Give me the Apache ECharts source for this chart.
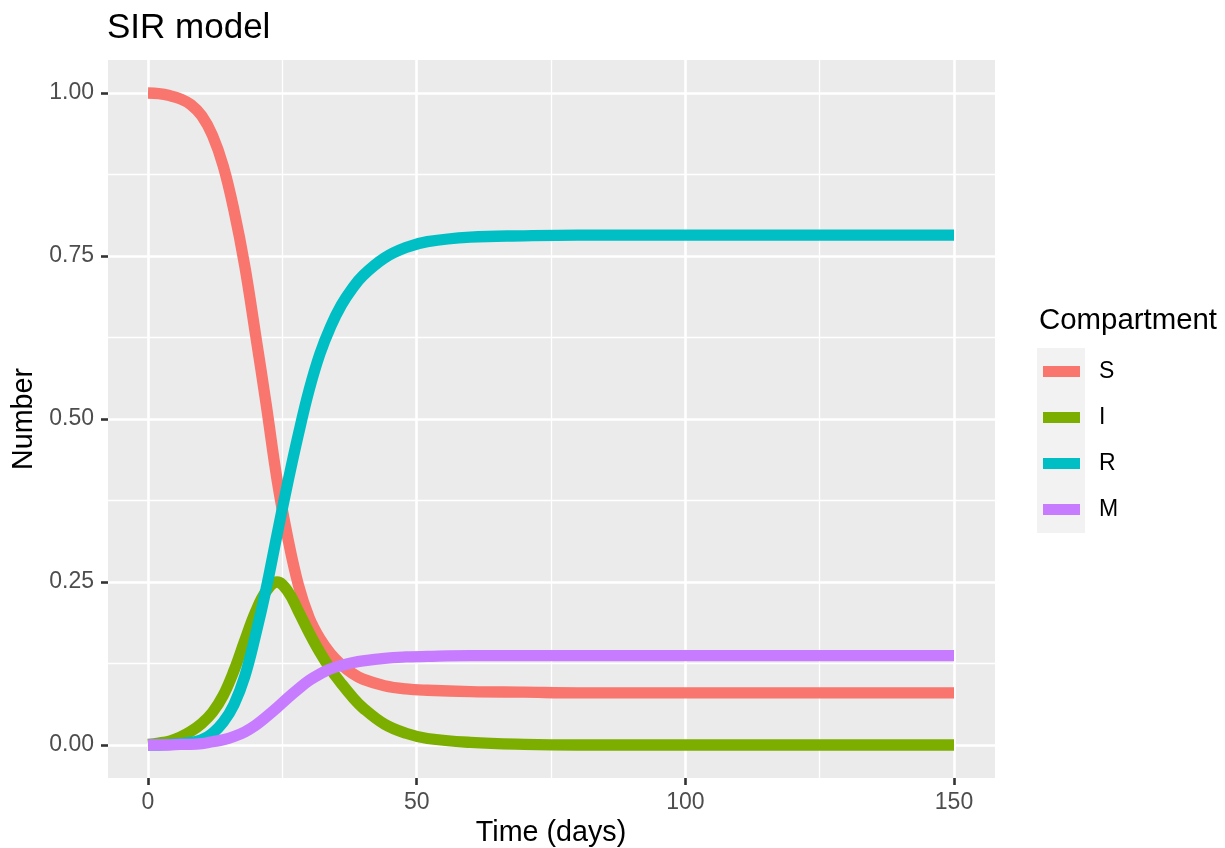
<!DOCTYPE html>
<html>
<head>
<meta charset="utf-8">
<title>SIR model</title>
<script src="https://cdn.jsdelivr.net/npm/echarts@6.0.0/dist/echarts.min.js"></script>
<style>
  html, body { margin: 0; padding: 0; background: #fff; }
  #chart { width: 1225px; height: 848px; }
</style>
</head>
<body>
<div id="chart"></div>
<script>
// time (days)
const times = [0, 2, 4, 6, 8, 10, 12, 14, 16, 18, 20, 22, 24, 26, 28, 30, 32, 34, 36, 38, 40, 44, 48, 52, 60, 70, 80, 100, 125, 150]
const S = [1.000, 0.999, 0.996, 0.991, 0.982, 0.965, 0.935, 0.888, 0.820, 0.735, 0.630, 0.522, 0.408, 0.318, 0.245, 0.195, 0.163, 0.140, 0.123, 0.110, 0.101, 0.091, 0.086, 0.084, 0.082, 0.081, 0.080, 0.080, 0.080, 0.080]
const I = [0.001, 0.003, 0.006, 0.012, 0.021, 0.033, 0.050, 0.076, 0.114, 0.160, 0.204, 0.236, 0.250, 0.236, 0.205, 0.172, 0.142, 0.116, 0.094, 0.074, 0.057, 0.032, 0.018, 0.010, 0.004, 0.001, 0.000, 0.000, 0.000, 0.000]
const R = [0.000, 0.000, 0.001, 0.002, 0.004, 0.008, 0.018, 0.035, 0.062, 0.105, 0.168, 0.240, 0.322, 0.402, 0.477, 0.545, 0.600, 0.642, 0.675, 0.700, 0.720, 0.747, 0.763, 0.772, 0.779, 0.781, 0.782, 0.782, 0.782, 0.782]
const M = [0.000, 0.000, 0.000, 0.001, 0.001, 0.002, 0.005, 0.008, 0.013, 0.020, 0.030, 0.043, 0.057, 0.072, 0.086, 0.099, 0.109, 0.117, 0.122, 0.126, 0.129, 0.133, 0.135, 0.136, 0.137, 0.137, 0.137, 0.137, 0.137, 0.137]

const compartments = ['S', 'I', 'R', 'M']
const values = { S, I, R, M }
const colors = ['#F8766D', '#7CAE00', '#00BFC4', '#C77CFF']

const xTicks = [0, 150, 50]   // min, max, interval
const yTicks = [0, 1, 0.25]

const font = "'Liberation Sans', Arial, sans-serif"
const hidden = { show: false }
const noBounds = { containLabel: false, outerBoundsMode: 'none' }

const chart = echarts.init(document.getElementById('chart'), null, { renderer: 'canvas' })

chart.setOption({
  animation: false,
  textStyle: { fontFamily: font },
  title: [
    {
      text: 'SIR model',
      left: 107,
      top: 11,
      padding: 0,
      textStyle: { fontSize: 35, fontWeight: 'normal', color: '#000', fontFamily: font }
    },
    {
      text: 'Compartment',
      left: 1039,
      top: 306,
      padding: 0,
      textStyle: { fontSize: 29.4, fontWeight: 'normal', color: '#000', fontFamily: font }
    }
  ],
  legend: {
    orient: 'vertical',
    left: 1043,
    top: 360,
    padding: 0,
    itemWidth: 37,
    itemHeight: 11,
    itemGap: 23,
    icon: 'rect',
    data: compartments,
    textStyle: { fontSize: 23, lineHeight: 23, color: '#000', fontFamily: font, padding: [0, 0, 0, 14] }
  },
  graphic: [
    {
      // legend key background
      type: 'rect',
      z: -1,
      shape: { x: 1037, y: 348, width: 48, height: 185 },
      style: { fill: '#F2F2F2' }
    }
  ],
  grid: [
    // panel background
    { left: 108, top: 60, width: 887, height: 718, show: true, backgroundColor: '#EBEBEB', borderWidth: 0, ...noBounds },
    // data area (0..150, 0..1)
    { left: 148, top: 93, width: 806, height: 652, ...noBounds },
    // x axis + vertical grid lines, full panel height
    { left: 148, top: 60, width: 806, height: 718, ...noBounds },
    // y axis + horizontal grid lines, full panel width
    { left: 108, top: 93, width: 887, height: 652, ...noBounds }
  ],
  xAxis: [
    { gridIndex: 0, type: 'value', show: false },
    { gridIndex: 1, type: 'value', min: xTicks[0], max: xTicks[1], show: false },
    {
      gridIndex: 2,
      type: 'value',
      min: xTicks[0],
      max: xTicks[1],
      interval: xTicks[2],
      name: 'Time (days)',
      nameLocation: 'middle',
      nameGap: 40,
      nameTextStyle: { fontSize: 28.7, color: '#000', fontFamily: font },
      axisLine: hidden,
      axisTick: { show: true, length: 7, lineStyle: { color: '#333333', width: 2.6 } },
      axisLabel: { fontSize: 23, color: '#4D4D4D', margin: 13, fontFamily: font },
      splitLine: { show: true, lineStyle: { color: '#FFFFFF', width: 2.6 } },
      minorTick: { show: false, splitNumber: 2 },
      minorSplitLine: { show: true, lineStyle: { color: '#FFFFFF', width: 1.3 } }
    },
    { gridIndex: 3, type: 'value', show: false }
  ],
  yAxis: [
    { gridIndex: 0, type: 'value', show: false },
    { gridIndex: 1, type: 'value', min: yTicks[0], max: yTicks[1], show: false },
    { gridIndex: 2, type: 'value', show: false },
    {
      gridIndex: 3,
      type: 'value',
      min: yTicks[0],
      max: yTicks[1],
      interval: yTicks[2],
      name: 'Number',
      nameLocation: 'middle',
      nameGap: 66,
      nameTextStyle: { fontSize: 28.7, color: '#000', fontFamily: font },
      axisLine: hidden,
      axisTick: { show: true, length: 7, lineStyle: { color: '#333333', width: 2.6 } },
      axisLabel: {
        fontSize: 23,
        color: '#4D4D4D',
        margin: 14,
        fontFamily: font,
        formatter: v => v.toFixed(2)
      },
      splitLine: { show: true, lineStyle: { color: '#FFFFFF', width: 2.6 } },
      minorTick: { show: false, splitNumber: 2 },
      minorSplitLine: { show: true, lineStyle: { color: '#FFFFFF', width: 1.3 } }
    }
  ],
  series: compartments.map((name, k) => ({
    name,
    type: 'line',
    xAxisIndex: 1,
    yAxisIndex: 1,
    data: times.map((t, i) => [t, values[name][i]]),
    showSymbol: false,
    smooth: 0.4,
    clip: false,
    color: colors[k],
    lineStyle: { width: 11.3, color: colors[k], cap: 'butt' }
  }))
})
</script>
</body>
</html>
